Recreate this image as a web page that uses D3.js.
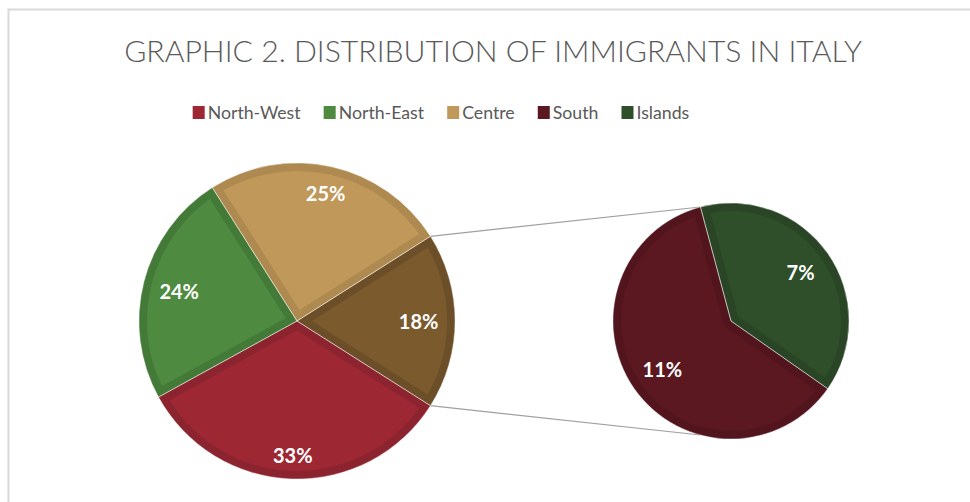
<!DOCTYPE html>
<html><head><meta charset="utf-8">
<script src="https://cdn.jsdelivr.net/npm/d3@7"></script>
<style>body{margin:0;background:#fff}svg{display:block}</style>
</head><body>
<script>
// ---- data ----
const title = "GRAPHIC 2. DISTRIBUTION OF IMMIGRANTS IN ITALY";
const legendNames = ["North-West", "North-East", "Centre", "South", "Islands"];
const mainCategories = ["Other", "North-West", "North-East", "Centre"];
const mainValues = [18, 33, 24, 25];
const subCategories = ["South", "Islands"];
const subValues = [11, 7];

// ---- styles ----
const fillColor = {"North-West":"#9d2733","North-East":"#4e8a40","Centre":"#c09859","Other":"#7b5a2e","South":"#5b1820","Islands":"#2f4e2a"};
const bandColor = {"North-West":"#8c2430","North-East":"#447a38","Centre":"#ae8950","Other":"#6c4f28","South":"#52151d","Islands":"#294525"};
const mainLabelK = {"Other":0.77,"North-West":0.85,"North-East":0.77,"Centre":0.83};
const subLabelK = {"South":0.71,"Islands":0.72};

const W = 970, H = 502;
const svg = d3.select("body").append("svg").attr("width", W).attr("height", H);
const defs = svg.append("defs");
const FONT = "Lato, 'Open Sans', sans-serif";
const textCol = "#595959";

// border
svg.append("path").attr("d", "M8.5,520 V9.5 H990").attr("fill","none").attr("stroke","#d9d9d9").attr("stroke-width",2);

// title, fit to width
const t = svg.append("text").attr("x", 493).attr("y", 62).attr("text-anchor","middle")
  .attr("font-family", FONT).attr("font-weight", 300).attr("font-size", 100).attr("fill", textCol).text(title);
let tw = t.node().getComputedTextLength();
t.attr("font-size", 100 * 738 / tw);

// legend
const legG = svg.append("g");
const legFs = 100;
const tmp = legG.append("text").attr("font-family", FONT).attr("font-size", legFs);
const widths = legendNames.map(n => { tmp.text(n); return tmp.node().getComputedTextLength(); });
tmp.remove();
const fs = legFs * 93 / widths[0];
const tws = widths.map(w => w * fs / legFs);
const sq = 12, gapSq = 3, gapItem = 23;
let total = 0;
tws.forEach((w,i) => { total += sq + gapSq + w + (i < tws.length - 1 ? gapItem : 0); });
let lx = 441 - total / 2;
legendNames.forEach((n, i) => {
  legG.append("rect").attr("x", lx).attr("y", 106).attr("width", sq).attr("height", 13).attr("fill", fillColor[n]);
  legG.append("text").attr("x", lx + sq + gapSq).attr("y", 119).attr("font-family", FONT)
    .attr("font-size", fs).attr("fill", textCol).text(n);
  lx += sq + gapSq + tws[i] + gapItem;
});

// ---- main pie ----
const total1 = d3.sum(mainValues);
const otherAng = 2 * Math.PI * mainValues[0] / total1;
const mainStart = Math.PI / 2 - otherAng / 2;
const mainData = mainCategories.map((c, i) => ({name: c, value: mainValues[i]}));
const pieMain = d3.pie().sort(null).value(d => d.value).startAngle(mainStart).endAngle(mainStart + 2 * Math.PI);
const cx1 = 297, cy1 = 321, r1 = 158;
const arc1 = d3.arc().innerRadius(0).outerRadius(r1);

const cx2 = 731, cy2 = 321, r2 = 118;
const total2 = d3.sum(subValues);
const islAng = 2 * Math.PI * subValues[1] / total2;
const islMid = 55 * Math.PI / 180;
const islStart = islMid - islAng / 2;
const subStart = islStart + islAng;
const subData = subCategories.map((c, i) => ({name: c, value: subValues[i]}));
const pieSub = d3.pie().sort(null).value(d => d.value).startAngle(subStart).endAngle(subStart + 2 * Math.PI);
const arc2 = d3.arc().innerRadius(0).outerRadius(r2);

// connector lines
const pMain = a => [cx1 + r1 * Math.sin(a), cy1 - r1 * Math.cos(a)];
const pSub = a => [cx2 + r2 * Math.sin(a), cy2 - r2 * Math.cos(a)];
const a1 = pMain(mainStart), a2 = pMain(mainStart + otherAng);
const b1 = pSub(islStart), b2 = pSub(Math.PI - islStart);
svg.append("line").attr("x1", a1[0]).attr("y1", a1[1]).attr("x2", b1[0]).attr("y2", b1[1]).attr("stroke","#a0a0a0").attr("stroke-width",1.2);
svg.append("line").attr("x1", a2[0]).attr("y1", a2[1]).attr("x2", b2[0]).attr("y2", b2[1]).attr("stroke","#a0a0a0").attr("stroke-width",1.2);

function drawPie(arcs, arcGen, cx, cy, r, labelK, id) {
  arcs.forEach((d, i) => {
    const path = arcGen(d);
    const cid = `clip-${id}-${i}`;
    defs.append("clipPath").attr("id", cid).append("path").attr("d", path).attr("transform", `translate(${cx},${cy})`);
    const sg = svg.append("g").attr("clip-path", `url(#${cid})`).append("g").attr("transform", `translate(${cx},${cy})`);
    sg.append("path").attr("d", path).attr("fill", fillColor[d.data.name])
      .attr("stroke", bandColor[d.data.name]).attr("stroke-width", 16).attr("stroke-linejoin","miter");
  });
  const g2 = svg.append("g").attr("transform", `translate(${cx},${cy})`);
  arcs.forEach(d => {
    g2.append("path").attr("d", arcGen(d)).attr("fill","none").attr("stroke","rgba(255,255,255,0.4)").attr("stroke-width",1);
  });
  arcs.forEach(d => {
    const m = (d.startAngle + d.endAngle) / 2;
    const rr = r * labelK[d.data.name];
    g2.append("text").attr("x", rr * Math.sin(m)).attr("y", -rr * Math.cos(m))
      .attr("text-anchor","middle").attr("dominant-baseline","central")
      .attr("font-family", FONT).attr("font-weight", 700).attr("font-size", 20).attr("fill","#fff")
      .text(d.data.value + "%");
  });
}
drawPie(pieMain(mainData), arc1, cx1, cy1, r1, mainLabelK, "m");
drawPie(pieSub(subData), arc2, cx2, cy2, r2, subLabelK, "s");
</script>
</body></html>
